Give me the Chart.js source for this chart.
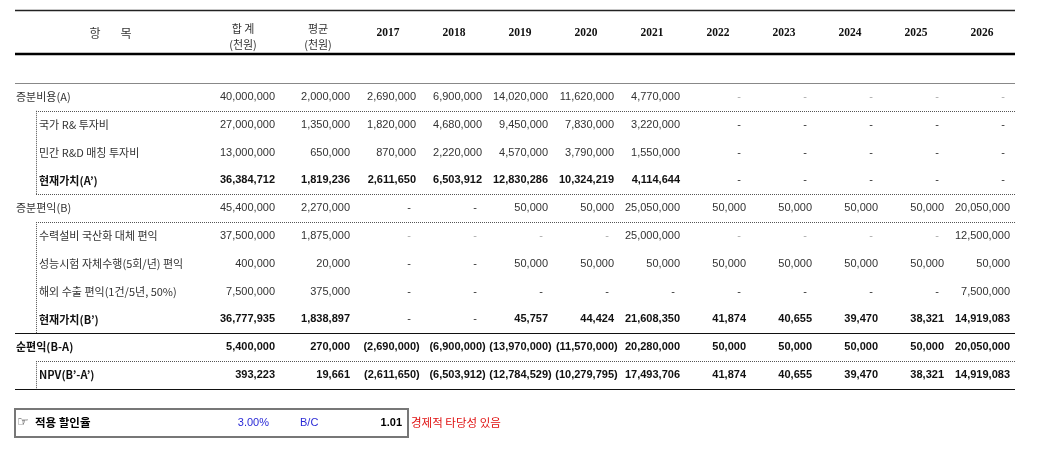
<!DOCTYPE html>
<html>
<head>
<meta charset="utf-8">
<script src="https://cdn.jsdelivr.net/npm/chart.js@4"></script>
<style>
  html, body { margin: 0; padding: 0; background: #fff; }
  #wrap { width: 1054px; height: 459px; }
</style>
</head>
<body>
<div id="wrap"><canvas id="tableChart" width="1054" height="459"></canvas></div>
<script>
// columns of the table (x scale)
const columns = ['합계', '평균', '2017', '2018', '2019', '2020', '2021', '2022', '2023', '2024', '2025', '2026'];

// row labels (y scale)
const rowLabels = [
  '증분비용(A)',
  '국가 R& 투자비',
  '민간 R&D 매칭 투자비',
  '현재가치(A’)',
  '증분편익(B)',
  '수력설비 국산화 대체 편익',
  '성능시험 자체수행(5회/년) 편익',
  '해외 수출 편익(1건/5년, 50%)',
  '현재가치(B’)',
  '순편익(B-A)',
  'NPV(B’-A’)'
];

// values in 천원, null = "-"
const costTotal     = [40000000, 2000000, 2690000, 6900000, 14020000, 11620000, 4770000, null, null, null, null, null];
const costGov       = [27000000, 1350000, 1820000, 4680000, 9450000, 7830000, 3220000, null, null, null, null, null];
const costPrivate   = [13000000, 650000, 870000, 2220000, 4570000, 3790000, 1550000, null, null, null, null, null];
const costPV        = [36384712, 1819236, 2611650, 6503912, 12830286, 10324219, 4114644, null, null, null, null, null];
const benefitTotal  = [45400000, 2270000, null, null, 50000, 50000, 25050000, 50000, 50000, 50000, 50000, 20050000];
const benefitHydro  = [37500000, 1875000, null, null, null, null, 25000000, null, null, null, null, 12500000];
const benefitTest   = [400000, 20000, null, null, 50000, 50000, 50000, 50000, 50000, 50000, 50000, 50000];
const benefitExport = [7500000, 375000, null, null, null, null, null, null, null, null, null, 7500000];
const benefitPV     = [36777935, 1838897, null, null, 45757, 44424, 21608350, 41874, 40655, 39470, 38321, 14919083];
const netBenefit    = [5400000, 270000, -2690000, -6900000, -13970000, -11570000, 20280000, 50000, 50000, 50000, 50000, 20050000];
const npv           = [393223, 19661, -2611650, -6503912, -12784529, -10279795, 17493706, 41874, 40655, 39470, 38321, 14919083];

const rowValues = [costTotal, costGov, costPrivate, costPV, benefitTotal, benefitHydro,
  benefitTest, benefitExport, benefitPV, netBenefit, npv];

// footer
const discountRate = '3.00%';
const bcRatio = '1.01';
const verdict = '경제적 타당성 있음';

// styling per row
const indented = [false, true, true, true, false, true, true, true, true, false, true];
const boldRow  = [false, false, false, true, false, false, false, false, true, true, true];
const lightDash = [true, false, false, false, false, true, false, false, false, false, false];

const numFont = "11px 'Liberation Sans', Arial, sans-serif";
const numBold = "bold 11px 'Liberation Sans', Arial, sans-serif";
const krFont = "11px 'Noto Sans CJK KR', sans-serif";
const krBold = "bold 11px 'Noto Sans CJK KR', sans-serif";
const tableLeft = 15;
const indentX = 36;

function fmt(v) {
  const s = String(Math.abs(v)).replace(/\B(?=(\d{3})+(?!\d))/g, ',');
  return v < 0 ? '(' + s + ')' : s;
}

const tablePlugin = {
  id: 'tableText',
  afterDatasetsDraw(chart) {
    const { ctx, chartArea, scales: { x, y } } = chart;
    const right = chartArea.right;
    const shift = (i) => (i === 0 ? -9 : 0);
    const edge = (r) => {
      if (r <= 0) return chartArea.top;
      if (r >= rowLabels.length) return chartArea.bottom;
      return (y.getPixelForValue(r - 1) + y.getPixelForValue(r)) / 2;
    };

    ctx.save();
    ctx.textBaseline = 'middle';

    // header
    const headTop = chartArea.top - 72;
    const headBot = chartArea.top - 29;
    const headMid = (headTop + headBot) / 2 + 1;
    ctx.fillStyle = '#333';
    ctx.font = "12px 'Noto Sans CJK KR', sans-serif";
    ctx.textAlign = 'center';
    ctx.fillText('항', 95, headMid);
    ctx.fillText('목', 126, headMid);
    columns.forEach((c, i) => {
      const cx = x.getPixelForValue(i) + (i === 0 ? -13 : i === 1 ? -4 : 0);
      if (i < 2) {
        ctx.font = krFont;
        ctx.fillStyle = '#333';
        ctx.fillText(i === 0 ? '합 계' : c, cx, headMid - 5);
        ctx.fillText('(천원)', cx, headMid + 11);
      } else {
        ctx.font = "bold 11.5px 'Liberation Serif', serif";
        ctx.fillStyle = '#111';
        ctx.fillText(c, cx, headMid);
      }
    });

    // row labels
    ctx.textAlign = 'left';
    rowLabels.forEach((lab, r) => {
      ctx.font = boldRow[r] ? krBold : krFont;
      ctx.fillStyle = boldRow[r] ? '#111' : '#333';
      ctx.fillText(lab, indented[r] ? indentX + 3 : tableLeft + 1, y.getPixelForValue(r));
    });

    // cells from dataset points
    chart.data.datasets.forEach((ds, r) => {
      const meta = chart.getDatasetMeta(r);
      meta.data.forEach((pt, i) => {
        const v = ds.values[i];
        const ax = pt.x + 28 + shift(i);
        ctx.textAlign = 'right';
        if (v === null) {
          ctx.font = numFont;
          ctx.fillStyle = lightDash[r] ? '#aaa' : '#333';
          ctx.fillText('-', ax - 5, pt.y);
          return;
        }
        ctx.font = boldRow[r] ? numBold : numFont;
        ctx.fillStyle = boldRow[r] ? '#111' : '#333';
        const pw = v < 0 ? ctx.measureText(')').width : 0;
        ctx.fillText(fmt(v), ax + pw, pt.y);
      });
    });

    // rules
    const hline = (yy, x0, w, color, dash) => {
      ctx.beginPath();
      ctx.setLineDash(dash ? [1, 1] : []);
      ctx.lineWidth = w;
      ctx.strokeStyle = color;
      ctx.moveTo(x0, yy);
      ctx.lineTo(right, yy);
      ctx.stroke();
    };
    const vline = (y0, y1) => {
      ctx.beginPath();
      ctx.setLineDash([1, 1]);
      ctx.lineWidth = 1;
      ctx.strokeStyle = '#555';
      ctx.moveTo(indentX + 0.5, y0);
      ctx.lineTo(indentX + 0.5, y1);
      ctx.stroke();
    };
    hline(headTop - 0.5, tableLeft, 1.5, '#222', false);
    hline(headBot, tableLeft, 2.5, '#000', false);
    hline(Math.round(chartArea.top) + 0.5, tableLeft, 1, '#888', false);
    [1, 4, 5, 10].forEach(r => hline(Math.round(edge(r)) + 0.5, indentX, 1, '#555', true));
    [9, 11].forEach(r => hline(Math.round(edge(r)) + 0.5, tableLeft, 1, '#111', false));
    vline(edge(1), edge(4));
    vline(edge(5), edge(9));
    vline(edge(10), edge(11));

    // footer box
    const by = chartArea.bottom + 20;
    const bh = 28;
    const bmid = by + bh / 2;
    ctx.setLineDash([]);
    ctx.lineWidth = 2;
    ctx.strokeStyle = '#777';
    ctx.strokeRect(tableLeft, by, 393, bh);

    ctx.textAlign = 'left';
    ctx.fillStyle = '#333';
    ctx.font = "13px 'DejaVu Sans', sans-serif";
    ctx.fillText('☞', 17, bmid);
    ctx.fillStyle = '#000';
    ctx.font = "bold 11.5px 'Noto Sans CJK KR', sans-serif";
    ctx.fillText('적용 할인율', 35, bmid);

    ctx.textAlign = 'right';
    ctx.fillStyle = '#2a2ad6';
    ctx.font = numFont;
    ctx.fillText(discountRate, x.getPixelForValue(0) + 13, bmid);
    ctx.textAlign = 'left';
    ctx.fillText('B/C', x.getPixelForValue(1) - 22, bmid);
    ctx.textAlign = 'right';
    ctx.fillStyle = '#000';
    ctx.font = numBold;
    ctx.fillText(bcRatio, x.getPixelForValue(2) + 14, bmid);
    ctx.textAlign = 'left';
    ctx.fillStyle = '#e01010';
    ctx.font = "11.5px 'Noto Sans CJK KR', sans-serif";
    ctx.fillText(verdict, tableLeft + 396, bmid);

    ctx.restore();
  }
};

new Chart(document.getElementById('tableChart'), {
  type: 'line',
  data: {
    labels: columns,
    datasets: rowValues.map((vals, r) => ({
      label: rowLabels[r],
      values: vals,
      data: columns.map(c => ({ x: c, y: rowLabels[r] })),
      showLine: false,
      pointRadius: 0,
      pointHoverRadius: 0
    }))
  },
  options: {
    responsive: false,
    animation: false,
    devicePixelRatio: 1,
    layout: { padding: { left: 223, right: 39, top: 83, bottom: 70 } },
    plugins: { legend: { display: false }, tooltip: { enabled: false } },
    events: [],
    scales: {
      x: { type: 'category', labels: columns, offset: true, display: false },
      y: { type: 'category', labels: rowLabels, offset: true, display: false }
    }
  },
  plugins: [tablePlugin]
});
</script>
</body>
</html>
